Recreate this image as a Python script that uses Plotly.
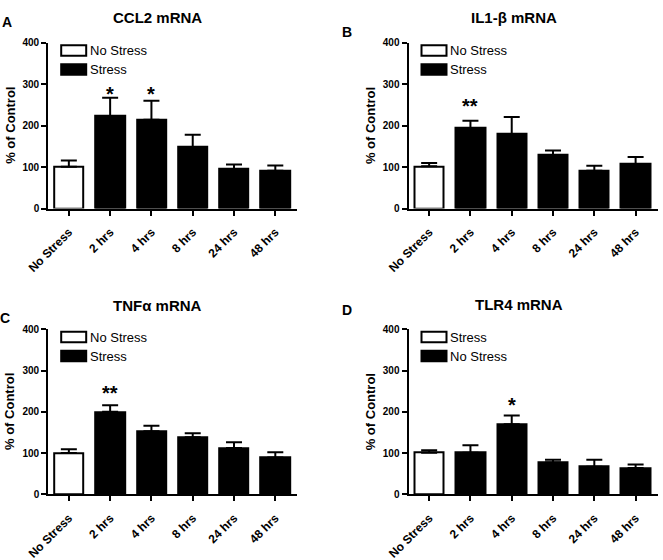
import plotly.graph_objects as go

W, H = 663, 560

# ---------------- data ----------------
categories = ["No Stress", "2 hrs", "4 hrs", "8 hrs", "24 hrs", "48 hrs"]
y_ticks = [0, 100, 200, 300, 400]

titles = ["CCL2 mRNA", "IL1-β mRNA", "TNFα mRNA", "TLR4 mRNA"]
letters = ["A", "B", "C", "D"]

ccl2_mean = [101, 223, 214, 148, 95, 91]
ccl2_err = [15, 44, 46, 30, 11, 13]
il1b_mean = [102, 194, 180, 129, 91, 107]
il1b_err = [8, 18, 41, 11, 12, 17]
tnfa_mean = [100, 200, 153, 138, 112, 89]
tnfa_err = [9, 16, 13, 10, 14, 13]
tlr4_mean = [101, 101, 170, 77, 67, 64]
tlr4_err = [6, 18, 21, 7, 17, 8]

ccl2_sig = ["", "*", "*", "", "", ""]
il1b_sig = ["", "**", "", "", "", ""]
tnfa_sig = ["", "**", "", "", "", ""]
tlr4_sig = ["", "", "*", "", "", ""]
sig_level = [279, 250, 249, 220]

legend_labels = [
    ["No Stress", "Stress"],
    ["No Stress", "Stress"],
    ["No Stress", "Stress"],
    ["Stress", "No Stress"],
]

means = [ccl2_mean, il1b_mean, tnfa_mean, tlr4_mean]
errs = [ccl2_err, il1b_err, tnfa_err, tlr4_err]
sigs = [ccl2_sig, il1b_sig, tnfa_sig, tlr4_sig]

# ---------------- layout geometry (pixels) ----------------
FONT = "Arial, Liberation Sans, sans-serif"
panel_left = [48.2, 408.5, 48.2, 408.5]
panel_top = [42.7, 42.7, 329.3, 329.3]
panel_bottom = [208.5, 208.5, 494.3, 494.3]
panel_w = 249.0
title_pos = [(157, 17), (514, 17), (157, 305), (519, 304)]
letter_pos = [(7, 22), (347, 32), (5, 318), (347, 310)]


def fx(px):
    return px / W


def fy(py):
    return 1 - py / H


fig = go.Figure()
shapes = []
annotations = []

for i in range(4):
    ax = "" if i == 0 else str(i + 1)
    xa, ya = "x" + ax, "y" + ax
    colors = ["white"] + ["black"] * (len(categories) - 1)
    fig.add_trace(go.Bar(
        x=list(range(len(categories))), y=means[i],
        xaxis=xa, yaxis=ya, width=0.71,
        marker=dict(color=colors, line=dict(color="black", width=2)),
        error_y=dict(type="data", symmetric=False, array=errs[i],
                     arrayminus=[0] * len(categories),
                     color="black", thickness=2, width=8),
        showlegend=False, hoverinfo="skip",
    ))
    left, top, bot = panel_left[i], panel_top[i], panel_bottom[i]
    fig.layout["xaxis" + ax] = dict(
        domain=[fx(left), fx(left + panel_w)], anchor=ya,
        range=[-0.5, 5.53], tickmode="array",
        tickvals=list(range(len(categories))), ticktext=categories,
        tickangle=-45, ticks="outside", ticklen=5, tickwidth=2, tickcolor="black",
        ticklabelstandoff=5,
        showline=True, linewidth=2, linecolor="black", showgrid=False, zeroline=False,
        tickfont=dict(family=FONT, size=12, color="black", weight="bold"),
        automargin=False, fixedrange=True,
    )
    fig.layout["yaxis" + ax] = dict(
        domain=[fy(bot), fy(top)], anchor=xa,
        range=[0, 400], tickmode="array", tickvals=y_ticks,
        ticks="outside", ticklen=5, tickwidth=2, tickcolor="black",
        showline=True, linewidth=2, linecolor="black", showgrid=False, zeroline=False,
        tickfont=dict(family=FONT, size=10, color="black", weight="bold"),
        automargin=False, fixedrange=True,
    )
    # y axis title
    annotations.append(dict(
        x=fx(left - 38), y=fy((top + bot) / 2), xref="paper", yref="paper",
        text="% of Control", textangle=-90, showarrow=False,
        xanchor="center", yanchor="middle",
        font=dict(family=FONT, size=13, color="black", weight="bold"),
    ))
    # panel title
    annotations.append(dict(
        x=fx(title_pos[i][0]), y=fy(title_pos[i][1]), xref="paper", yref="paper",
        text=titles[i], showarrow=False, xanchor="center", yanchor="middle",
        font=dict(family=FONT, size=15, color="black", weight="bold"),
    ))
    # panel letter
    annotations.append(dict(
        x=fx(letter_pos[i][0]), y=fy(letter_pos[i][1]), xref="paper", yref="paper",
        text=letters[i], showarrow=False, xanchor="center", yanchor="middle",
        font=dict(family=FONT, size=14, color="black", weight="bold"),
    ))
    # significance stars
    for j, s in enumerate(sigs[i]):
        if s:
            annotations.append(dict(
                x=j, y=sig_level[i], xref=xa, yref=ya, text=s, showarrow=False,
                xanchor="center", yanchor="middle", yshift=-1,
                font=dict(family=FONT, size=20, color="black", weight="bold"),
            ))
    # legend boxes
    for k, (fill, lab) in enumerate(zip(["white", "black"], legend_labels[i])):
        y0 = top + 2.5 + k * 19
        shapes.append(dict(
            type="rect", xref="paper", yref="paper",
            x0=fx(left + 13), x1=fx(left + 38), y0=fy(y0 + 10.5), y1=fy(y0),
            fillcolor=fill, line=dict(color="black", width=2),
        ))
        annotations.append(dict(
            x=fx(left + 39.5), y=fy(y0 + 5.3), xref="paper", yref="paper",
            text=lab, showarrow=False, xanchor="left", yanchor="middle",
            font=dict(family=FONT, size=13, color="black"),
        ))

fig.update_layout(
    width=W, height=H, margin=dict(l=0, r=0, t=0, b=0),
    paper_bgcolor="white", plot_bgcolor="white",
    shapes=shapes, annotations=annotations, bargap=0,
    showlegend=False,
)

fig.write_html("out.html", config={"displayModeBar": False})
